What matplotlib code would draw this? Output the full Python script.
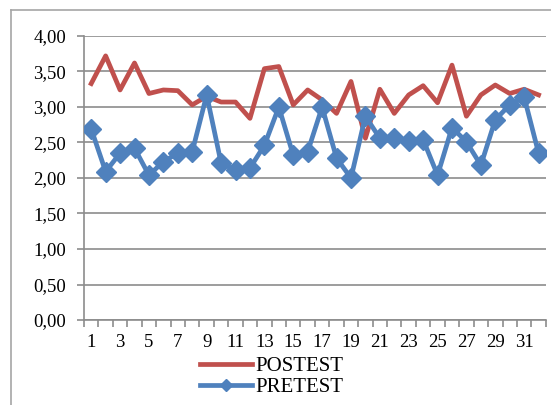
import numpy as np
import matplotlib.pyplot as plt
from matplotlib.lines import Line2D

# data
items = list(range(1, 33))
posttest = [3.33, 3.72, 3.24, 3.62, 3.19, 3.24, 3.23, 3.03, 3.15, 3.07, 3.07, 2.84,
            3.54, 3.57, 3.03, 3.24, 3.10, 2.91, 3.36, 2.56, 3.25, 2.91, 3.17, 3.30,
            3.06, 3.59, 2.87, 3.17, 3.31, 3.19, 3.25, 3.17]
pretest = [2.69, 2.09, 2.35, 2.42, 2.04, 2.23, 2.35, 2.37, 3.17, 2.21, 2.11, 2.14,
           2.46, 3.00, 2.32, 2.37, 3.00, 2.28, 2.00, 2.87, 2.56, 2.56, 2.52, 2.54,
           2.04, 2.71, 2.51, 2.18, 2.82, 3.03, 3.14, 2.35]
yticks = [0, 0.5, 1, 1.5, 2, 2.5, 3, 3.5, 4]
ytick_labels = ['0,00', '0,50', '1,00', '1,50', '2,00', '2,50', '3,00', '3,50', '4,00']

plt.rcParams['font.family'] = ['Liberation Serif', 'DejaVu Serif']

W, H = 551, 405
fig = plt.figure(figsize=(W/100, H/100), dpi=100)
ax = fig.add_axes([84/W, 1-320/H, (545.8-84)/W, (320-36)/H])

grid_col = '#8c8c8c'
red = '#C0504D'
blue = '#4F81BD'

ax.plot(items, posttest, color=red, lw=3.4, label='POSTEST', zorder=3)
ax.plot(items, pretest, color=blue, lw=3.4, marker='D', markersize=10.5, label='PRETEST', zorder=4)

ax.set_xlim(0.5, 32.5)
ax.set_ylim(0, 4)
ax.set_yticks(yticks)
ax.set_yticklabels(ytick_labels)
ax.yaxis.grid(True, color=grid_col, lw=1.2)
ax.set_axisbelow(True)

ax.set_xticks(np.arange(1, 33, 2))
ax.set_xticks(np.arange(0.5, 33, 1), minor=True)
ax.tick_params(axis='x', which='major', length=0, pad=10, labelsize=13.5)
ax.tick_params(axis='x', which='minor', length=5, width=1.2, color=grid_col, direction='out')
ax.tick_params(axis='y', length=5, width=1.2, color=grid_col, pad=8, labelsize=13.5)

for s in ['top', 'right']:
    ax.spines[s].set_visible(False)
for s in ['left', 'bottom']:
    ax.spines[s].set_color(grid_col)
    ax.spines[s].set_linewidth(1.2)

fig.legend(loc='center', bbox_to_anchor=(272/W, 1-377/H), frameon=False,
           fontsize=15, handlelength=2.5, handletextpad=0.15, labelspacing=0.05,
           borderpad=0, markerscale=0.55)

# chart frame (only top and left edges fall inside the picture)
fig.add_artist(Line2D([11/W, 11/W], [0, 1-10/H], color='#a6a6a6', lw=1.2))
fig.add_artist(Line2D([11/W, 1], [1-10/H, 1-10/H], color='#a6a6a6', lw=1.2))

fig.savefig('out.png', dpi=100)
